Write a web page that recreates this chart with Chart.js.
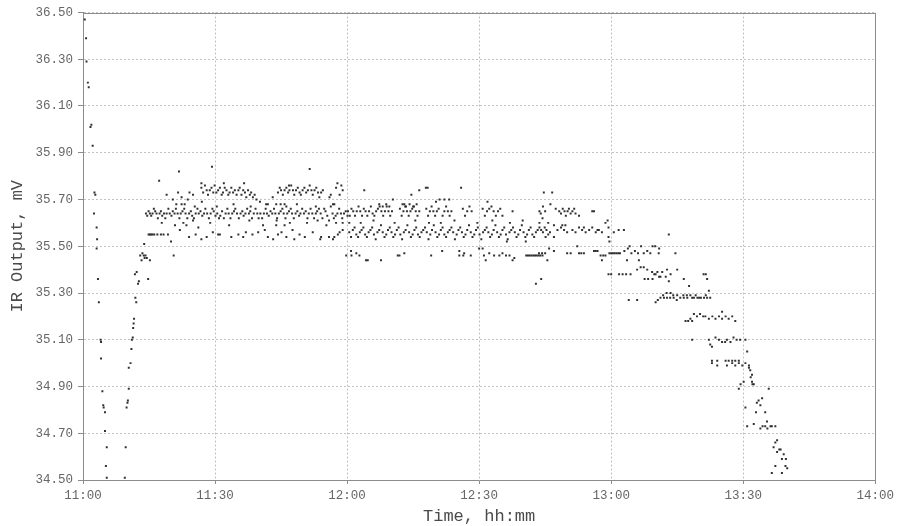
<!DOCTYPE html>
<html>
<head>
<meta charset="utf-8">
<script src="https://cdn.jsdelivr.net/npm/chart.js@4/dist/chart.umd.min.js"></script>
<style>
html,body{margin:0;padding:0;background:#fff;}
#wrap{width:898px;height:526px;}
</style>
</head>
<body>
<div id="wrap"><canvas id="c" width="898" height="526"></canvas></div>
<script>
// x = minutes after 11:00, y = IR output in mV
const timeLabels = ['11:00','11:30','12:00','12:30','13:00','13:30','14:00'];
const yTickValues = [34.5,34.7,34.9,35.1,35.3,35.5,35.7,35.9,36.1,36.3,36.5];

const initialDrop = [
 [0.4,36.47],[0.7,36.39],[0.8,36.29],[1.1,36.20],[1.3,36.18],[1.7,36.01],[1.9,36.02],[2.2,35.93],
 [2.6,35.73],[2.8,35.72],[2.5,35.64],[3.1,35.58],[3.2,35.53],[3.1,35.49],[3.4,35.36],[3.6,35.26],
 [4.0,35.10],[4.1,35.09],[4.1,35.02],[4.4,34.88],[4.6,34.82],[4.7,34.81],[5.0,34.79],[5.0,34.71],
 [5.4,34.64],[5.2,34.56],[5.4,34.51]
];

const recovery = [
 [9.5,34.51],[9.7,34.64],[9.9,34.81],[10.1,34.83],[10.2,34.84],[10.4,34.89],[10.4,34.98],[10.8,35.00],
 [11.0,35.06],[11.1,35.10],[11.3,35.11],[11.4,35.15],[11.5,35.17],[11.6,35.19],[12.1,35.26],[11.9,35.28],
 [12.5,35.34],[12.7,35.35],[11.8,35.38],[12.2,35.39],[14.8,35.36],[13.3,35.44],[13.5,35.47],[13.0,35.46],
 [13.8,35.46],[14.2,35.46],[14.5,35.45],[15.2,35.44],[13.9,35.51],[14.0,35.45]
];

const plateauEarly = [
 // upper band
 [21.6,35.73],[22.4,35.71],[24.2,35.73],[25.0,35.72],[26.9,35.75],[27.3,35.73],[27.7,35.76],[28.1,35.74],
 [28.4,35.72],[28.8,35.74],[29.2,35.75],[29.6,35.73],[29.9,35.76],[30.3,35.73],[30.7,35.74],[31.1,35.75],
 [31.5,35.72],[31.8,35.73],[32.2,35.75],[32.6,35.74],[33.0,35.72],[33.3,35.73],[33.7,35.75],[34.1,35.73],
 [34.5,35.74],[34.9,35.72],[35.3,35.74],[35.6,35.75],[36.0,35.72],[36.4,35.74],[36.8,35.73],[37.1,35.71],
 [37.5,35.74],[37.9,35.72],[38.2,35.73],[38.6,35.71],[39.0,35.72],[39.4,35.70],
 [44.3,35.73],[44.7,35.75],[45.0,35.74],[45.4,35.72],[45.8,35.74],[46.2,35.75],[46.6,35.73],[46.9,35.74],
 [47.3,35.76],[47.7,35.74],[48.0,35.72],[48.4,35.74],[48.8,35.75],[49.2,35.73],[49.5,35.72],[49.9,35.74],
 [50.3,35.75],[50.7,35.73],[51.1,35.74],[51.5,35.76],[51.9,35.74],[52.2,35.72],[52.6,35.74],[53.0,35.75],
 [53.4,35.73],[53.7,35.71],[54.1,35.73],[54.5,35.74],[56.0,35.71],[56.3,35.72],[58.3,35.72],[58.7,35.76],[59.0,35.74],
 [17.3,35.78],[21.8,35.82],[26.9,35.77],[29.3,35.84],[51.5,35.83],[46.8,35.76],[57.8,35.77],[57.5,35.75],[19.0,35.72],
 [23.8,35.70],[32.0,35.77],[36.6,35.77],[40.2,35.69],[43.1,35.71],
 // 35.68 level
 [21.2,35.68],[22.4,35.68],[23.1,35.68],[25.4,35.67],[41.6,35.68],[42.0,35.68],[43.9,35.68],[44.9,35.68],
 [45.8,35.68],[46.2,35.67],[56.8,35.68],[57.1,35.68],[20.4,35.70],[27.0,35.69],[30.4,35.67],[34.2,35.68],
 [38.1,35.67],[48.6,35.68],[52.9,35.67],
 // 35.64 band
 [14.3,35.64],[14.6,35.63],[14.9,35.65],[15.2,35.64],[15.5,35.63],[15.8,35.64],[16.1,35.66],[16.4,35.65],
 [16.7,35.64],[17.0,35.62],[17.4,35.64],[17.7,35.65],[18.0,35.63],[18.4,35.64],[18.7,35.62],[19.0,35.64],
 [19.4,35.66],[19.7,35.64],[20.1,35.63],[20.4,35.65],[20.8,35.64],[21.1,35.66],[21.5,35.64],[21.9,35.62],
 [22.2,35.64],[22.6,35.65],[23.0,35.66],[23.3,35.64],[23.7,35.62],[24.1,35.64],[24.5,35.65],[24.8,35.63],
 [25.2,35.62],[25.6,35.64],[26.0,35.66],[26.3,35.64],[26.7,35.65],[27.1,35.63],[27.5,35.64],[27.8,35.66],
 [28.2,35.64],[28.6,35.62],[29.0,35.64],[29.4,35.66],[29.7,35.65],[30.1,35.63],[30.5,35.64],[30.9,35.62],
 [31.2,35.63],[31.6,35.65],[32.0,35.62],[32.4,35.64],[32.8,35.66],[33.1,35.64],[33.5,35.62],[33.9,35.64],
 [34.3,35.65],[34.6,35.66],[35.0,35.64],[35.4,35.62],[35.8,35.64],[36.2,35.65],[36.5,35.63],[36.9,35.64],
 [37.3,35.66],[37.7,35.64],[38.0,35.65],[38.4,35.62],[38.8,35.64],[39.2,35.66],[39.6,35.64],[39.9,35.62],
 [40.3,35.64],[40.7,35.62],[41.1,35.64],[41.5,35.66],[41.8,35.64],[42.2,35.63],[42.6,35.65],[43.0,35.64],
 [43.4,35.66],[43.7,35.64],[44.1,35.62],[44.5,35.64],[44.9,35.65],[45.3,35.66],[45.6,35.64],[46.0,35.62],
 [46.4,35.64],[46.8,35.65],[47.2,35.66],[47.5,35.64],[47.9,35.62],[48.3,35.64],[48.7,35.65],[49.1,35.63],
 [49.4,35.64],[49.8,35.66],[50.2,35.64],[50.6,35.65],[51.0,35.62],[51.3,35.64],[51.7,35.66],[52.1,35.64],
 [52.5,35.62],[52.9,35.64],[53.2,35.65],[53.6,35.66],[54.0,35.64],[54.4,35.62],[54.8,35.66],[55.1,35.65],
 [55.5,35.63],[55.9,35.61],[56.3,35.67],[56.7,35.64],[57.0,35.62],[57.4,35.63],[57.8,35.64],[58.2,35.66],
 [58.6,35.64],[58.9,35.62],[59.3,35.64],[59.7,35.65],[60.1,35.63],
 // 35.59 level
 [20.9,35.59],[22.8,35.60],[23.5,35.59],[25.0,35.61],[26.2,35.58],[43.9,35.59],[45.8,35.59],[57.5,35.60],
 [59.0,35.60],[44.0,35.61],[17.9,35.60],[28.9,35.60],[33.2,35.59],[37.8,35.61],[40.9,35.59],[47.0,35.60],
 [50.9,35.60],[53.3,35.61],[55.3,35.59],
 // 35.55 band
 [14.9,35.55],[15.2,35.55],[15.5,35.55],[15.8,35.55],[16.2,35.55],[16.9,35.55],[17.7,35.55],[18.3,35.55],
 [19.3,35.55],[24.1,35.54],[26.9,35.53],[28.1,35.54],[30.7,35.55],[31.1,35.55],[35.3,35.55],[36.4,35.54],
 [37.0,35.56],[39.8,35.56],[41.3,35.57],[42.0,35.54],[44.3,35.55],[46.2,35.54],[49.2,35.55],[52.2,35.56],
 [54.1,35.54],[57.1,35.54],[57.9,35.55],[58.3,35.56],[59.0,35.57],[48.0,35.53],[53.9,35.53],[55.9,35.54],
 [56.8,35.53],[20.6,35.46],[20.0,35.52],[22.0,35.57],[25.6,35.55],[29.5,35.56],[33.7,35.54],[38.5,35.55],
 [43.2,35.53],[45.1,35.56],[50.4,35.54],[47.6,35.57]
];

const plateauMid = [
 // 35.65 band
 [60.2,35.65],[60.6,35.63],[61.0,35.66],[61.4,35.65],[61.8,35.63],[62.2,35.65],[62.6,35.67],[63.0,35.65],
 [63.4,35.63],[63.8,35.66],[64.2,35.65],[64.6,35.63],[65.0,35.65],[65.4,35.67],[65.8,35.64],[66.2,35.63],
 [66.6,35.65],[67.0,35.66],[67.4,35.67],[67.8,35.65],[68.2,35.63],[68.6,35.65],[69.0,35.67],[69.4,35.65],
 [69.8,35.63],[70.2,35.65],[72.0,35.66],[72.4,35.63],[72.8,35.65],[73.2,35.67],[73.6,35.65],[74.0,35.63],
 [74.4,35.65],[74.8,35.66],[75.2,35.67],[75.6,35.65],[76.0,35.63],[76.4,35.65],[78.0,35.66],[78.4,35.63],
 [78.8,35.65],[79.2,35.67],[79.6,35.65],[80.0,35.63],[80.4,35.65],[80.8,35.66],[81.7,35.63],[82.1,35.65],
 [82.5,35.67],[82.9,35.65],[83.3,35.63],[83.7,35.65],[86.3,35.66],[86.8,35.63],[87.3,35.65],[87.8,35.67],
 [88.3,35.65],[90.8,35.66],[91.3,35.63],[91.8,35.65],[92.3,35.66],[92.8,35.67],[93.3,35.65],[93.8,35.63],
 [94.3,35.65],[94.8,35.66],[95.3,35.63],[97.6,35.65],
 [67.3,35.68],[68.1,35.67],[68.9,35.68],[69.6,35.67],[72.6,35.68],[73.4,35.67],[74.2,35.68],[75.0,35.67],[75.8,35.68],
 // 35.56 band
 [60.5,35.56],[60.9,35.54],[61.3,35.57],[61.7,35.58],[62.1,35.55],[62.5,35.54],[62.9,35.56],[63.3,35.57],
 [63.7,35.58],[64.1,35.55],[64.5,35.54],[64.9,35.56],[65.3,35.57],[65.7,35.58],[66.1,35.55],[66.5,35.53],
 [66.9,35.56],[67.3,35.57],[67.7,35.59],[68.1,35.56],[68.5,35.54],[68.9,35.55],[69.3,35.57],[69.7,35.58],
 [70.1,35.56],[70.5,35.54],[70.9,35.55],[71.3,35.57],[71.7,35.58],[72.1,35.55],[72.5,35.53],[72.9,35.56],
 [73.3,35.57],[73.7,35.59],[74.1,35.56],[74.5,35.54],[74.9,35.55],[75.3,35.57],[75.7,35.58],[76.1,35.55],
 [76.5,35.54],[76.9,35.56],[77.3,35.57],[77.7,35.58],[78.1,35.56],[78.5,35.53],[78.9,35.55],[79.3,35.57],
 [79.7,35.59],[80.1,35.56],[80.5,35.54],[80.9,35.55],[81.3,35.57],[81.7,35.58],[82.1,35.55],[82.5,35.54],
 [82.9,35.56],[83.3,35.57],[83.7,35.58],[84.1,35.56],[84.5,35.53],[84.9,35.55],[85.3,35.57],[85.7,35.58],
 [86.1,35.56],[86.5,35.54],[86.9,35.55],[87.3,35.57],[87.7,35.59],[88.1,35.56],[88.5,35.54],[88.9,35.55],
 [89.3,35.57],[89.7,35.58],[90.1,35.55],[90.5,35.53],[90.9,35.56],[91.3,35.57],[91.7,35.58],[92.1,35.56],
 [92.5,35.54],[92.9,35.55],[93.3,35.57],[93.7,35.59],[94.1,35.56],[94.5,35.54],[94.9,35.55],[95.3,35.57],
 [95.7,35.58],[96.1,35.55],[96.5,35.53],[96.9,35.56],[97.3,35.57],[97.7,35.58],[98.1,35.56],[98.5,35.54],
 [98.9,35.55],[99.3,35.57],[99.7,35.59],[100.1,35.56],[100.5,35.54],[100.9,35.55],[101.3,35.57],[101.7,35.58],
 [102.1,35.55],[102.5,35.54],[102.9,35.56],[103.3,35.57],[103.7,35.58],[104.1,35.57],[104.5,35.56],[104.9,35.58],
 [105.3,35.57],[105.7,35.55],[106.1,35.56],
 // 35.46 band
 [59.8,35.46],[61.0,35.46],[62.1,35.47],[62.8,35.46],[71.9,35.46],[73.0,35.47],[79.1,35.46],[85.5,35.46],
 [86.6,35.47],[88.1,35.46],[91.1,35.46],[92.3,35.47],[93.4,35.46],[94.6,35.46],[95.3,35.47],[96.1,35.46],
 [96.9,35.46],[98.0,35.45],[100.7,35.46],[101.1,35.46],[101.5,35.46],[101.9,35.46],[102.3,35.46],[102.7,35.46],
 [103.1,35.46],[103.5,35.46],[103.9,35.46],[104.4,35.46],[60.9,35.48],[64.3,35.44],[71.5,35.46],[86.4,35.46],
 [64.7,35.44],[67.7,35.44],[91.5,35.44],[97.6,35.44],
 [90.0,35.49],[90.8,35.49],[81.6,35.48],[85.5,35.48],
 [60.5,35.60],[70.8,35.60],[81.3,35.60],[89.6,35.60],[103.7,35.60],[66.0,35.61],[84.4,35.61],
 [63.1,35.60],[75.5,35.61],[78.6,35.60],[93.0,35.61],[97.0,35.60],[99.9,35.61],[100.6,35.52],[96.3,35.52],
 // upper strays
 [63.9,35.74],[70.4,35.70],[73.0,35.68],[74.6,35.72],[76.4,35.74],[77.9,35.75],[78.3,35.75],[80.2,35.69],
 [81.0,35.70],[82.1,35.70],[83.2,35.70],[85.9,35.75],[91.9,35.69],[103.7,35.65],[104.4,35.62],
 [102.9,35.34],[104.1,35.36]
];

const plateauLate = [
 [104.0,35.64],[104.5,35.67],[104.7,35.73],[105.0,35.65],[106.2,35.68],[106.6,35.73],[107.4,35.66],[108.2,35.65],
 [108.6,35.64],[109.0,35.66],[109.4,35.65],[109.7,35.63],[110.1,35.65],[110.4,35.66],[110.8,35.64],[111.2,35.65],
 [111.6,35.66],[111.9,35.64],[112.7,35.63],[115.7,35.65],[116.1,35.65],[119.2,35.61],[105.7,35.60],[107.0,35.59],
 [108.9,35.59],[109.6,35.59],
 [107.8,35.57],[108.6,35.58],[109.3,35.57],[110.0,35.56],[111.2,35.57],[111.9,35.56],[112.7,35.58],[113.4,35.57],
 [114.2,35.56],[115.0,35.57],[115.7,35.58],[116.5,35.56],[117.2,35.57],[117.9,35.56],[118.7,35.60],[119.4,35.58],
 [120.6,35.56],[121.7,35.57],[122.9,35.57],[113.8,35.58],[116.9,35.57],
 [105.1,35.54],[107.0,35.54],[119.4,35.54],[119.6,35.52],[112.3,35.50],[133.1,35.55],
 [103.6,35.47],[104.3,35.47],[105.0,35.47],[105.9,35.49],[107.0,35.48],[110.0,35.47],[110.8,35.47],[112.7,35.47],
 [113.2,35.47],[113.8,35.47],[116.1,35.48],[116.5,35.48],[116.9,35.48],[117.6,35.46],[118.2,35.46],[118.7,35.46],
 [119.6,35.47],[120.0,35.47],[120.4,35.47],[120.8,35.47],[121.2,35.47],[121.6,35.47],[122.0,35.47],[123.0,35.48],
 [123.8,35.49],[124.6,35.47],[125.4,35.48],[126.1,35.47],[127.4,35.47],[128.2,35.48],[128.9,35.47],[129.4,35.50],
 [130.9,35.49],[134.6,35.47],[124.2,35.50],[126.8,35.50],[130.0,35.50],[130.8,35.47],
 [105.5,35.44],[117.9,35.44],[123.6,35.44],[126.3,35.44]
];

const decline = [
 [119.4,35.38],[120.0,35.38],[121.8,35.38],[122.6,35.38],[123.4,35.38],[124.4,35.38],[125.9,35.40],[126.7,35.41],
 [127.4,35.41],[128.2,35.40],[127.6,35.36],[128.4,35.36],[129.4,35.36],[130.1,35.38],[130.9,35.37],[131.6,35.39],
 [132.4,35.37],[132.7,35.40],[133.1,35.35],[133.5,35.38],[135.0,35.40],[136.5,35.36],[137.7,35.33],[141.0,35.38],
 [141.5,35.38],[141.8,35.36],[142.2,35.31],[129.3,35.39],[129.8,35.38],[130.5,35.39],[131.2,35.37],
 [124.0,35.27],[125.9,35.27],[130.1,35.26],[130.6,35.27],[131.2,35.28],[131.8,35.29],[132.0,35.28],[132.6,35.30],
 [132.7,35.28],[133.4,35.28],[133.5,35.30],[134.1,35.29],[134.2,35.28],[134.9,35.27],[135.0,35.29],[135.7,35.28],
 [136.4,35.29],[136.5,35.28],[137.2,35.29],[137.3,35.28],[138.0,35.29],[138.4,35.28],[138.8,35.28],[139.2,35.29],
 [139.6,35.28],[140.0,35.28],[140.4,35.28],[141.1,35.28],[141.5,35.29],[141.8,35.28],[142.5,35.28],
 [136.9,35.18],[137.5,35.18],[138.0,35.19],[138.4,35.18],[138.8,35.21],[139.5,35.20],[140.2,35.21],[140.9,35.20],
 [141.4,35.20],[142.2,35.19],[143.0,35.20],[143.7,35.19],[144.5,35.20],[145.2,35.19],[145.2,35.22],[146.0,35.20],
 [146.7,35.19],[147.5,35.20],[148.2,35.18],
 [138.4,35.10],[142.2,35.10],[142.5,35.08],[142.9,35.07],[143.7,35.11],[144.5,35.10],[145.2,35.09],[145.9,35.09],
 [146.3,35.10],[147.1,35.09],[147.8,35.11],[148.5,35.10],[150.5,35.10],[149.3,35.10],
 [142.9,35.00],[144.1,34.99],[146.3,34.99],[147.5,35.00],[148.2,34.99],[148.2,35.01],[149.0,35.00],[149.8,34.99],
 [150.5,35.00],[150.9,35.05],[151.3,34.99],[151.6,34.97],[152.0,34.95],[142.9,35.01],[144.1,35.01],[146.0,35.01],
 [146.7,35.01],[147.5,35.01],[149.0,35.01],
 [151.3,34.98],[151.7,34.94],[152.0,34.92],[152.1,34.91],[152.4,34.91],[149.4,34.91],[149.0,34.89],[150.1,34.92],
 [155.8,34.89],[150.5,34.81],[152.9,34.79],[153.1,34.83],[153.5,34.84],[153.9,34.82],[154.3,34.85],[155.0,34.79],
 [150.9,34.73],[152.4,34.74],[153.9,34.72],[154.4,34.73],[155.0,34.73],[155.5,34.72],[156.2,34.73],[155.4,34.75],
 [156.5,34.73],[157.3,34.73],[157.7,34.67],[157.3,34.66],[156.9,34.64],[157.7,34.62],[158.2,34.63],[158.5,34.63],
 [159.2,34.61],[159.7,34.59],[159.6,34.56],[158.8,34.59],[160.0,34.55],[157.3,34.56],[156.5,34.53],[158.8,34.53]
];

const allPoints = [].concat(initialDrop, recovery, plateauEarly, plateauMid, plateauLate, decline)
  .map(p => ({x: p[0], y: p[1]}));

const FONT = "'Liberation Mono', 'Courier New', 'DejaVu Sans Mono', monospace";

const framePlugin = {
  id: 'frame',
  afterDatasetsDraw(chart) {
    const {ctx, chartArea: a} = chart;
    ctx.save();
    ctx.strokeStyle = '#8c8c8c';
    ctx.lineWidth = 1;
    ctx.beginPath();
    ctx.moveTo(Math.round(a.left), Math.round(a.top) + 0.5);
    ctx.lineTo(Math.round(a.right) + 0.5, Math.round(a.top) + 0.5);
    ctx.lineTo(Math.round(a.right) + 0.5, Math.round(a.bottom));
    ctx.stroke();
    ctx.restore();
  }
};

new Chart(document.getElementById('c'), {
  type: 'scatter',
  data: {
    datasets: [{
      label: 'IR Output',
      data: allPoints,
      pointStyle: 'rect',
      pointRadius: 1.4,
      pointBorderWidth: 0,
      backgroundColor: '#303030',
      borderColor: '#303030'
    }]
  },
  options: {
    responsive: false,
    animation: false,
    layout: { padding: { top: 12, right: 22, left: 0, bottom: 0 } },
    plugins: { legend: { display: false }, tooltip: { enabled: false } },
    scales: {
      x: {
        type: 'linear',
        min: 0, max: 180,
        afterFit(s) { s.height = 46; },
        afterBuildTicks(s) { s.ticks = timeLabels.map((_, i) => ({ value: i * 30 })); },
        ticks: {
          autoSkip: false, maxRotation: 0,
          callback: (v, i) => timeLabels[i],
          color: '#666', padding: 4,
          font: { family: FONT, size: 12.5 }
        },
        grid: { color: '#c2c2c2', lineWidth: 1, tickLength: 4, tickColor: '#8c8c8c', tickBorderDash: [] },
        border: { display: true, color: '#8c8c8c', width: 1, dash: [2, 2] },
        title: {
          display: true, text: 'Time, hh:mm', color: '#4a4a4a',
          font: { family: FONT, size: 17, lineHeight: 1.1 },
          padding: { top: 0, bottom: 0 }
        }
      },
      y: {
        type: 'linear',
        min: 34.5, max: 36.5,
        afterFit(s) { s.width = 83; },
        afterBuildTicks(s) { s.ticks = yTickValues.map(v => ({ value: v })); },
        ticks: {
          autoSkip: false,
          callback: (v) => Number(v).toFixed(2),
          color: '#666', padding: 5,
          font: { family: FONT, size: 12.5 }
        },
        grid: { color: '#c2c2c2', lineWidth: 1, tickLength: 5, tickColor: '#8c8c8c', tickBorderDash: [] },
        border: { display: true, color: '#8c8c8c', width: 1, dash: [2, 2] },
        title: {
          display: true, text: 'IR Output, mV', color: '#4a4a4a',
          font: { family: FONT, size: 17, lineHeight: 1.2 },
          padding: { top: 7, bottom: 0 }
        }
      }
    }
  },
  plugins: [framePlugin]
});
</script>
</body>
</html>
